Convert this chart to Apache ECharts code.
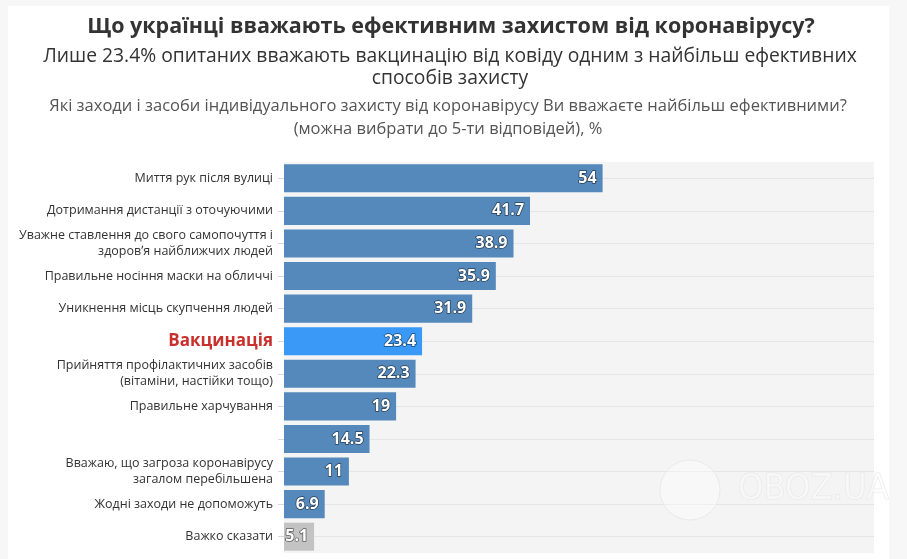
<!DOCTYPE html>
<html><head><meta charset="utf-8">
<script src="https://cdn.jsdelivr.net/npm/echarts@6/dist/echarts.min.js"></script>
<style>html,body{margin:0;padding:0;background:#f7f7f7}#c{width:907px;height:559px}</style>
</head><body><div id="c"></div>
<script>
const categories = [
  'Миття рук після вулиці',
  'Дотримання дистанції з оточуючими',
  'Уважне ставлення до свого самопочуття і\nздоровʼя найближчих людей',
  'Правильне носіння маски на обличчі',
  'Уникнення місць скупчення людей',
  'Вакцинація',
  'Прийняття профілактичних засобів\n(вітаміни, настійки тощо)',
  'Правильне харчування',
  '',
  'Вважаю, що загроза коронавірусу\nзагалом перебільшена',
  'Жодні заходи не допоможуть',
  'Важко сказати'
];
const values = [54, 41.7, 38.9, 35.9, 31.9, 23.4, 22.3, 19, 14.5, 11, 6.9, 5.1];
const highlightCategory = 'Вакцинація';
const neutralCategory = 'Важко сказати';

const FONT = 'Open Sans';
const chart = echarts.init(document.getElementById('c'), null, {renderer: 'canvas'});
chart.setOption({
  backgroundColor: '#f7f7f7',
  animation: false,
  graphic: [
    {type: 'rect', z: -10, shape: {x: 8, y: 6, width: 881, height: 560}, style: {fill: '#ffffff'}},
    {type: 'text', x: 451, y: 27, style: {text: 'Що українці вважають ефективним захистом від коронавірусу?', font: 'bold 21.5px "Open Sans"', fill: '#333333', align: 'center', verticalAlign: 'middle'}},
    {type: 'text', x: 450, y: 68, style: {text: 'Лише 23.4% опитаних вважають вакцинацію від ковіду одним з найбільш ефективних\nспособів захисту', font: '19.3px "Open Sans"', fill: '#333333', align: 'center', verticalAlign: 'middle', lineHeight: 22}},
    {type: 'text', x: 448, y: 118, style: {text: 'Які заходи і засоби індивідуального захисту від коронавірусу Ви вважаєте найбільш ефективними?\n(можна вибрати до 5-ти відповідей), %', font: '16.5px "Open Sans"', fill: '#555555', align: 'center', verticalAlign: 'middle', lineHeight: 23}},
    {type: 'circle', z: 50, shape: {cx: 690, cy: 490, r: 30}, style: {fill: 'rgba(255,255,255,0.35)', stroke: 'rgba(228,228,228,0.7)', lineWidth: 1}},
    {type: 'text', z: 50, x: 738, y: 490, style: {text: 'OBOZ.UA', font: '36px "DejaVu Sans Condensed"', fill: 'rgba(255,255,255,0.4)', stroke: 'rgba(228,228,228,0.7)', lineWidth: 1, verticalAlign: 'middle'}}
  ],
  grid: {left: 284, right: 33, top: 162, bottom: 6, show: true, backgroundColor: '#f4f4f4', borderWidth: 0},
  xAxis: {type: 'value', min: 0, max: 100, show: false},
  yAxis: {
    type: 'category', inverse: true, data: categories,
    axisLine: {show: false},
    axisTick: {show: true, alignWithLabel: true, length: 6, lineStyle: {color: '#d8d8d8'}},
    splitLine: {show: true, alignWithLabel: true, lineStyle: {color: '#e6e6e6', width: 1}},
    axisLabel: {
      margin: 11, color: '#333333', fontFamily: FONT, fontSize: 12.5, lineHeight: 16, align: 'right',
      formatter: v => v === highlightCategory ? '{h|' + v + '}' : v,
      rich: {h: {color: '#c9302c', fontWeight: 'bold', fontSize: 17, fontFamily: FONT}}
    }
  },
  series: [{
    type: 'bar', barCategoryGap: '14%',
    data: values.map((v, i) => ({
      value: v,
      itemStyle: {color: categories[i] === highlightCategory ? '#3a99f6' : (categories[i] === neutralCategory ? '#c3c3c3' : '#5589bc')}
    })),
    label: {
      show: true, position: 'insideRight', distance: 6,
      color: '#ffffff', fontFamily: FONT, fontWeight: 'bold', fontSize: 16,
      textBorderColor: 'rgba(0,0,0,0.55)', textBorderWidth: 1.5
    }
  }]
});
</script></body></html>
